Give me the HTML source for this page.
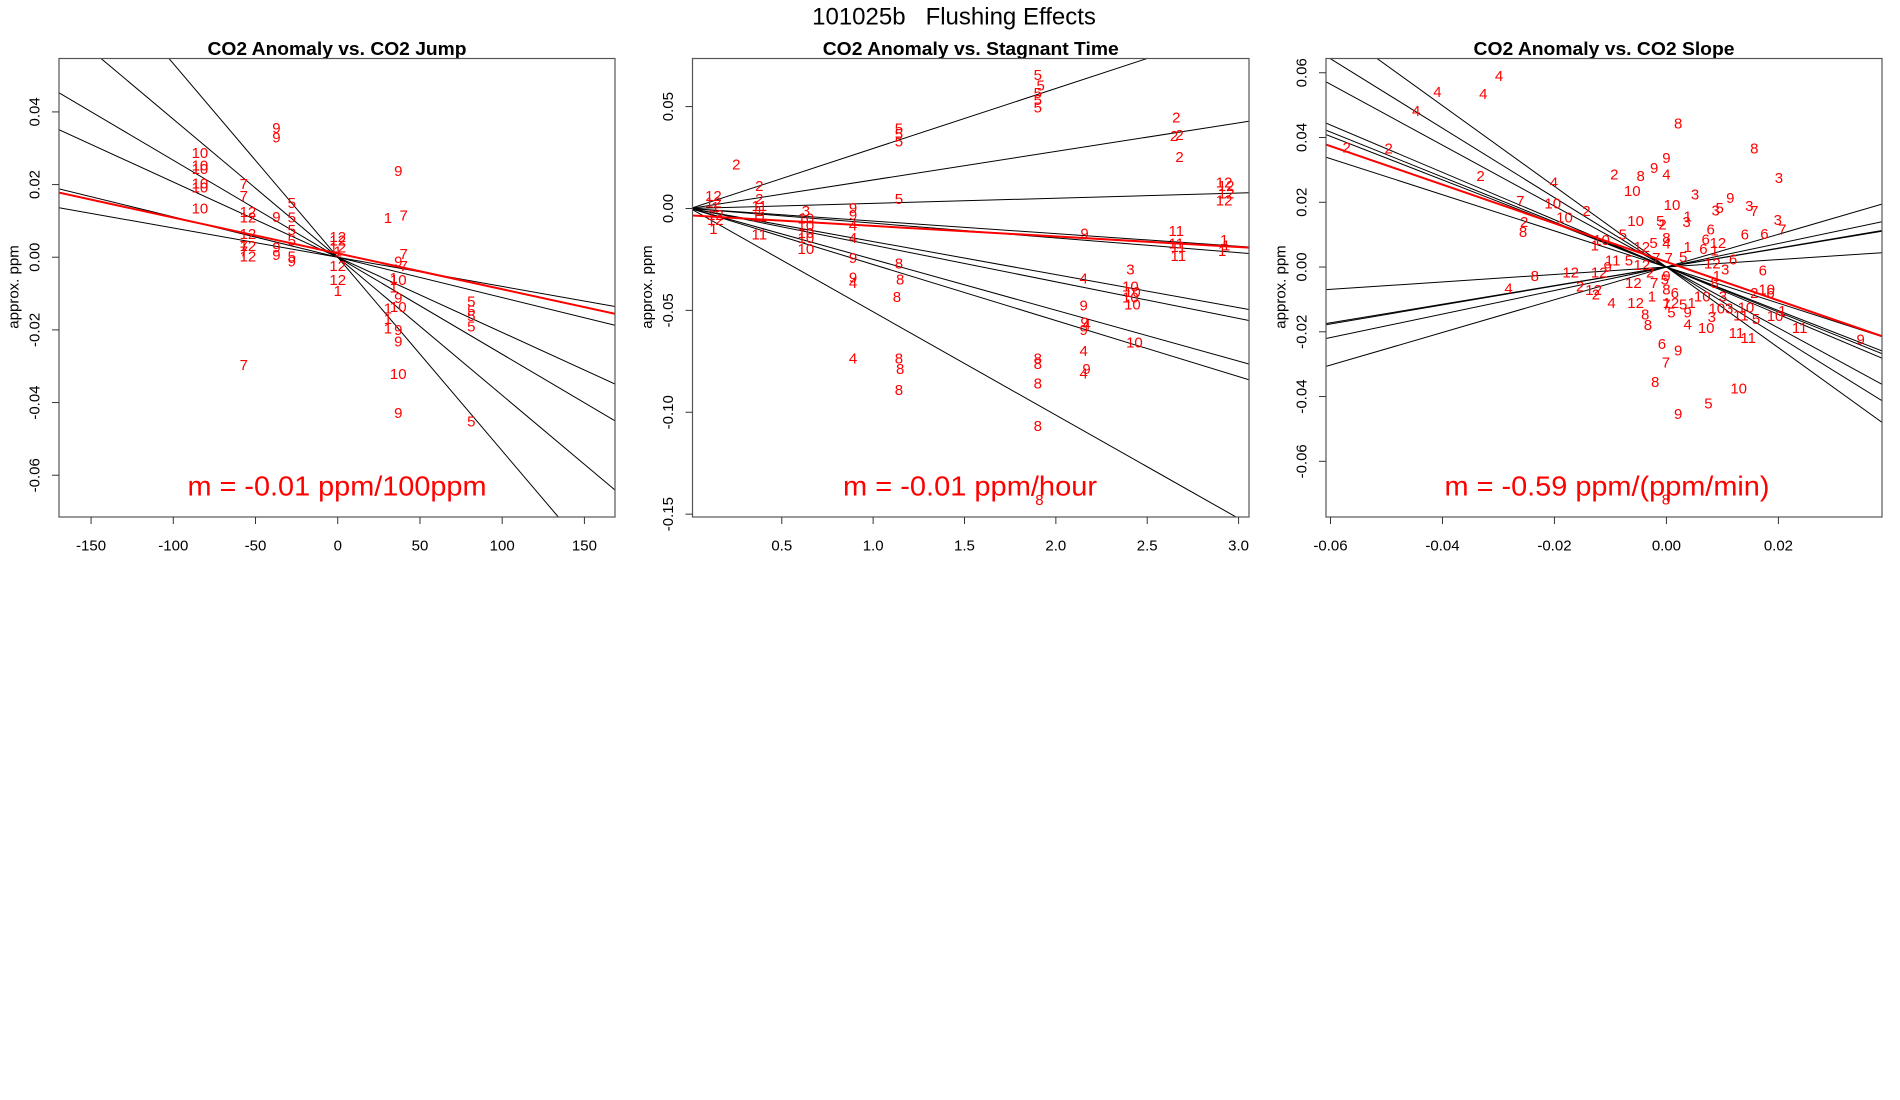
<!DOCTYPE html>
<html><head><meta charset="utf-8"><title>101025b Flushing Effects</title>
<style>
html,body{margin:0;padding:0;background:#fff;}
svg{display:block;font-family:"Liberation Sans",sans-serif;}
</style></head>
<body>
<svg id="chart" width="1900" height="1100" viewBox="0 0 1900 1100" xmlns="http://www.w3.org/2000/svg">
<rect width="1900" height="1100" fill="#fff"/>
<text x="954" y="17" font-size="24" text-anchor="middle" dominant-baseline="central" fill="#000" xml:space="preserve" style="white-space:pre">101025b   Flushing Effects</text>
</svg>
<script>
// ===== Panel 1: CO2 Anomaly vs. CO2 Jump =====
const p1Labels = ["9","9","10","10","10","10","10","10","7","7","12","12","12","12","7","7","12","9","9","9","5","5","5","5","5","9","12","12","12","1","12","12","1","9","1","7","7","9","7","1","10","1","9","10","1","1","1","9","9","7","10","9","5","5","5","5","5"];
const p1X = [-37.3,-37.3,-83.8,-83.8,-83.8,-83.8,-83.8,-83.8,-57.1,-57.1,-54.6,-54.6,-54.6,-54.6,-57.1,-57.1,-54.6,-37.3,-37.3,-37.3,-27.9,-27.9,-27.9,-27.9,-27.9,-27.9,0,0,0,0,0,0,0,36.8,30.5,40.1,40.1,36.8,40.1,34,36.8,34,36.8,36.8,30.5,30.5,30.5,36.8,36.8,-57.1,36.8,36.8,81.2,81.2,81.2,81.2,81.2];
const p1Y = [0.0355,0.0328,0.0286,0.0251,0.0242,0.0202,0.019,0.0133,0.0200,0.0167,0.0123,0.0108,0.0062,0.0030,0.0030,0.0015,0.0000,0.0110,0.0025,0.0005,0.0148,0.0108,0.0074,0.0044,0.0000,-0.0013,0.0054,0.0044,0.0025,0.0015,-0.0025,-0.0064,-0.0094,0.0236,0.0106,0.0113,0.0007,-0.0013,-0.0025,-0.0059,-0.0064,-0.0084,-0.0113,-0.0138,-0.0143,-0.0172,-0.0197,-0.0202,-0.0233,-0.0298,-0.0323,-0.0430,-0.0453,-0.0123,-0.0148,-0.0163,-0.0192];
const p1Slopes = [-0.000533,-0.000380,-0.000267,-0.000207,-0.000111,-0.0000804];
const p1Red = [0.00106,-0.0000986];
const p1XTicks = [-150,-100,-50,0,50,100,150];
const p1XTickLabels = ["-150","-100","-50","0","50","100","150"];
const p1YTicks = [0.04,0.02,0.00,-0.02,-0.04,-0.06];
const p1YTickLabels = ["0.04","0.02","0.00","-0.02","-0.04","-0.06"];

// ===== Panel 2: CO2 Anomaly vs. Stagnant Time =====
const p2Labels = ["2","12","12","1","12","12","1","2","2","11","1","11","11","3","10","10","10","10","10","9","9","4","4","9","9","4","4","5","5","5","5","8","8","8","8","8","8","5","5","5","5","5","8","8","8","8","8","9","4","9","9","4","9","4","9","4","3","10","10","10","10","10","2","2","2","2","11","11","11","11","12","12","12","12","1","1","1"];
const p2X = [0.251,0.126,0.126,0.137,0.137,0.137,0.126,0.377,0.377,0.377,0.377,0.377,0.377,0.632,0.632,0.632,0.632,0.632,0.632,0.890,0.890,0.890,0.890,0.890,0.890,0.890,0.890,1.141,1.141,1.141,1.141,1.141,1.148,1.130,1.141,1.148,1.141,1.901,1.917,1.901,1.901,1.901,1.901,1.901,1.901,1.901,1.910,2.157,2.152,2.152,2.157,2.168,2.152,2.152,2.168,2.152,2.408,2.408,2.419,2.408,2.419,2.430,2.659,2.677,2.647,2.677,2.659,2.659,2.670,2.670,2.921,2.932,2.932,2.921,2.921,2.932,2.910];
const p2Y = [0.0213,0.0058,0.0028,0.0005,-0.0034,-0.0060,-0.0104,0.0107,0.0045,0.0010,-0.0016,-0.0043,-0.0131,-0.0016,-0.0051,-0.0087,-0.0122,-0.0148,-0.0201,0.0001,-0.0034,-0.0087,-0.0148,-0.0245,-0.0342,-0.0369,-0.0738,0.0389,0.0363,0.0327,0.0045,-0.0272,-0.0351,-0.0436,-0.0738,-0.0791,-0.0893,0.0653,0.0600,0.0565,0.0530,0.0494,-0.0738,-0.0765,-0.0862,-0.1069,-0.1434,-0.0126,-0.0347,-0.0478,-0.0562,-0.0571,-0.0598,-0.0703,-0.0791,-0.0812,-0.0302,-0.0386,-0.0412,-0.0439,-0.0474,-0.0659,0.0445,0.0357,0.0353,0.0251,-0.0113,-0.0175,-0.0192,-0.0236,0.0125,0.0107,0.0072,0.0037,-0.0157,-0.0184,-0.0210];
const p2Slopes = [0.02945,0.0140,0.00252,-0.00618,-0.00722,-0.01622,-0.01799,-0.02497,-0.0275,-0.0507];
const p2Red = [-0.0034,-0.00517];
const p2XTicks = [0.5,1.0,1.5,2.0,2.5,3.0];
const p2XTickLabels = ["0.5","1.0","1.5","2.0","2.5","3.0"];
const p2YTicks = [0.05,0.00,-0.05,-0.10,-0.15];
const p2YTickLabels = ["0.05","0.00","-0.05","-0.10","-0.15"];

// ===== Panel 3: CO2 Anomaly vs. CO2 Slope =====
const p3Labels = ["4","4","4","4","2","2","2","8","8","9","9","4","8","2","3","10","4","7","10","3","9","10","3","7","3","5","2","10","1","3","10","5","2","2","8","3","7","6","6","6","5","10","1","12","5","8","4","12","6","1","6","1","5","7","7","11","5","12","6","8","12","12","9","12","2","3","1","6","12","7","8","5","9","4","2","12","2","1","8","6","7","12","5","1","10","3","2","10","6","4","12","5","9","10","3","11","10","10","5","1","8","8","3","4","10","11","11","11","9","6","9","7","8","10","5","9","8"];
const p3X = [-0.0299,-0.0409,-0.0327,-0.0447,-0.0571,-0.0496,-0.0332,0.0021,0.0157,0.0000,-0.0022,0.0000,-0.0046,-0.0093,0.0201,-0.0061,-0.0201,-0.0261,-0.0203,0.0051,0.0114,0.0010,0.0148,0.0157,0.0088,0.0095,-0.0143,-0.0182,0.0038,0.0036,-0.0055,-0.0011,-0.0007,-0.0254,-0.0256,0.0199,0.0207,0.0079,0.0140,0.0175,-0.0078,-0.0116,-0.0128,-0.0044,-0.0023,0.0,0.0,0.0092,0.0070,0.0038,0.0066,0.0086,0.0030,-0.0018,0.0004,-0.0096,-0.0067,0.0082,0.0119,-0.0235,-0.0171,-0.0120,-0.0105,-0.0044,-0.0029,0.0105,0.0090,0.0172,-0.0059,-0.0022,0.0086,-0.0003,0.0,-0.0282,-0.0154,-0.0130,-0.0126,-0.0026,0.0,0.0015,0.0,0.0008,0.0030,0.0045,0.0064,0.0101,0.0157,0.0179,0.0186,-0.0098,-0.0055,0.0009,0.0038,0.0090,0.0112,0.0133,0.0142,0.0194,0.0160,0.0207,-0.0038,-0.0033,0.0081,0.0038,0.0071,0.0238,0.0125,0.0146,0.0347,-0.0008,0.0021,-0.0001,-0.0020,0.0129,0.0075,0.0021,-0.0001];
const p3Y = [0.0589,0.0539,0.0533,0.0481,0.0367,0.0365,0.0279,0.0442,0.0365,0.0335,0.0304,0.0284,0.0279,0.0284,0.0274,0.0234,0.0260,0.0202,0.0195,0.0223,0.0212,0.0190,0.0187,0.0171,0.0173,0.0180,0.0171,0.0151,0.0154,0.0138,0.0140,0.0140,0.0130,0.0138,0.0106,0.0143,0.0115,0.0115,0.0099,0.0101,0.0099,0.0082,0.0065,0.0060,0.0073,0.0088,0.0071,0.0073,0.0084,0.0060,0.0054,0.0049,0.0029,0.0027,0.0027,0.0018,0.0018,0.0010,0.0021,-0.0029,-0.0018,-0.0018,-0.0001,0.0004,-0.0018,-0.0009,-0.0029,-0.0012,-0.0051,-0.0051,-0.0051,-0.0040,-0.0029,-0.0068,-0.0062,-0.0073,-0.0087,-0.0093,-0.0071,-0.0082,-0.0118,-0.0112,-0.0118,-0.0112,-0.0093,-0.0093,-0.0082,-0.0071,-0.0082,-0.0112,-0.0112,-0.0142,-0.0142,-0.0129,-0.0129,-0.0151,-0.0126,-0.0153,-0.0162,-0.0138,-0.0148,-0.0181,-0.0156,-0.0179,-0.0190,-0.0190,-0.0206,-0.0220,-0.0226,-0.0240,-0.0260,-0.0297,-0.0356,-0.0376,-0.0423,-0.0456,-0.0719];
const p3Slopes = [-1.246,-1.072,-0.941,-0.731,-0.695,-0.673,-0.558,0.115,0.287,0.293,0.363,0.505];
const p3Red = [0.0016,-0.596];
const p3XTicks = [-0.06,-0.04,-0.02,0.00,0.02];
const p3XTickLabels = ["-0.06","-0.04","-0.02","0.00","0.02"];
const p3YTicks = [0.06,0.04,0.02,0.00,-0.02,-0.04,-0.06];
const p3YTickLabels = ["0.06","0.04","0.02","0.00","-0.02","-0.04","-0.06"];

const NS = "http://www.w3.org/2000/svg";
const svg = document.getElementById("chart");
function mk(tag, attrs, parent){
  const e = document.createElementNS(NS, tag);
  for (const k in attrs) e.setAttribute(k, attrs[k]);
  parent.appendChild(e);
  return e;
}

function panel(cfg){
  const g = mk("g", {}, svg);
  
  
  const L=cfg.box[0], R=cfg.box[1], T=58.5, B=517;
  const sx = v => L + (v - cfg.xmin) / (cfg.xmax - cfg.xmin) * (R - L);
  const sy = v => T + (cfg.ymax - v) / (cfg.ymax - cfg.ymin) * (B - T);
  const clipId = cfg.name + "-clip";
  const defs = mk("defs", {}, g);
  const cp = mk("clipPath", {id: clipId}, defs);
  mk("rect", {x:L, y:T, width:R-L, height:B-T}, cp);

  const title = mk("text", {x:(L+R)/2, y:49, "font-size":18, "font-weight":"bold", "text-anchor":"middle", "dominant-baseline":"central", textLength:cfg.titleLen, lengthAdjust:"spacingAndGlyphs"}, g);
  title.textContent = cfg.title;
  
  

  const plot = mk("g", {"clip-path":"url(#"+clipId+")"}, g);
  
  

  cfg.slopes.forEach((m) => {
    const ln = mk("line", {x1:sx(cfg.xmin), y1:sy(m*cfg.xmin), x2:sx(cfg.xmax), y2:sy(m*cfg.xmax), stroke:"#000", "stroke-width":1}, plot);
    
    
  });
  cfg.labels.forEach((lab, i) => {
    const t = mk("text", {x:sx(cfg.xs[i]), y:sy(cfg.ys[i]), fill:"#ff0000", "font-size":15, "text-anchor":"middle", "dominant-baseline":"central"}, plot);
    t.textContent = lab;
    
    
  });
  const b = cfg.red[0], m = cfg.red[1];
  const rl = mk("line", {x1:sx(cfg.xmin), y1:sy(b+m*cfg.xmin), x2:sx(cfg.xmax), y2:sy(b+m*cfg.xmax), stroke:"#ff0000", "stroke-width":2}, plot);
  
  

  const box = mk("rect", {x:L, y:T, width:R-L, height:B-T, fill:"none", stroke:"#555", "stroke-width":1.2}, g);
  
  

  const xa = mk("g", {}, g);
  
  
  cfg.xticks.forEach((v, i) => {
    const x = sx(v);
    mk("line", {x1:x, y1:B, x2:x, y2:B+7, stroke:"#333", "stroke-width":1}, xa);
    const t = mk("text", {x:x, y:546, "font-size":15, "text-anchor":"middle", "dominant-baseline":"central"}, xa);
    t.textContent = cfg.xtickLabels[i];
    
    
  });
  const ya = mk("g", {}, g);
  
  
  cfg.yticks.forEach((v, i) => {
    const y = sy(v);
    mk("line", {x1:L-7, y1:y, x2:L, y2:y, stroke:"#333", "stroke-width":1}, ya);
    const tx = L - 24;
    const t = mk("text", {x:tx, y:y, "font-size":15, "text-anchor":"middle", "dominant-baseline":"central", transform:"rotate(-90 "+tx+" "+y+")"}, ya);
    t.textContent = cfg.ytickLabels[i];
    
    
  });
  const lx = L - 45, ly = 287;
  const yl = mk("text", {x:lx, y:ly, "font-size":15, "text-anchor":"middle", "dominant-baseline":"central", transform:"rotate(-90 "+lx+" "+ly+")"}, g);
  yl.textContent = "approx. ppm";
  
  

  const mt = mk("text", {x:cfg.mx, y:486, fill:"#ff0000", "font-size":28, "text-anchor":"middle", "dominant-baseline":"central", textLength:cfg.mLen, lengthAdjust:"spacingAndGlyphs"}, g);
  mt.textContent = cfg.mText;
  
  
}

panel({name:"panel-co2-jump", box:[59,615], xmin:-169.5, xmax:168.6, ymin:-0.0715, ymax:0.0547,
  title:"CO2 Anomaly vs. CO2 Jump", titleLen:259, labels:p1Labels, xs:p1X, ys:p1Y, slopes:p1Slopes, red:p1Red,
  xticks:p1XTicks, xtickLabels:p1XTickLabels, yticks:p1YTicks, ytickLabels:p1YTickLabels,
  mText:"m = -0.01 ppm/100ppm", mx:337, mLen:299});
panel({name:"panel-stagnant-time", box:[692.5,1249], xmin:0.0115, xmax:3.057, ymin:-0.1514, ymax:0.0736,
  title:"CO2 Anomaly vs. Stagnant Time", titleLen:296, labels:p2Labels, xs:p2X, ys:p2Y, slopes:p2Slopes, red:p2Red,
  xticks:p2XTicks, xtickLabels:p2XTickLabels, yticks:p2YTicks, ytickLabels:p2YTickLabels,
  mText:"m = -0.01 ppm/hour", mx:970, mLen:254});
panel({name:"panel-co2-slope", box:[1326,1882], xmin:-0.0608, xmax:0.0385, ymin:-0.0772, ymax:0.0644,
  title:"CO2 Anomaly vs. CO2 Slope", titleLen:261, labels:p3Labels, xs:p3X, ys:p3Y, slopes:p3Slopes, red:p3Red,
  xticks:p3XTicks, xtickLabels:p3XTickLabels, yticks:p3YTicks, ytickLabels:p3YTickLabels,
  mText:"m = -0.59 ppm/(ppm/min)", mx:1607, mLen:325});
</script>
</body></html>
